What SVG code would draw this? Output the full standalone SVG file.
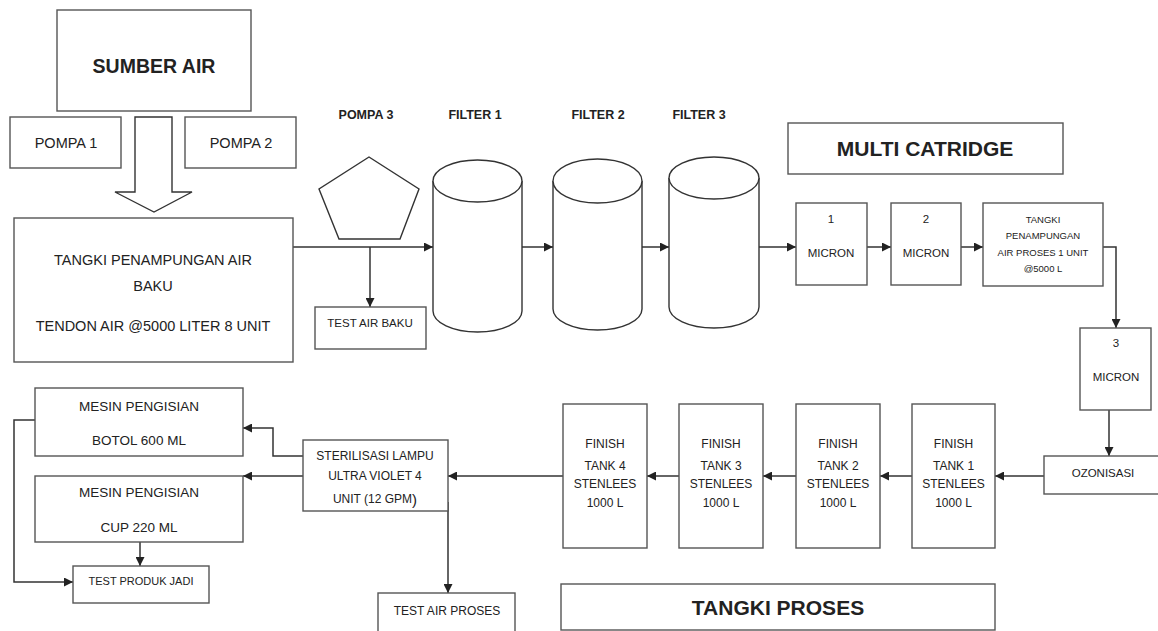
<svg xmlns="http://www.w3.org/2000/svg" width="1158" height="631" viewBox="0 0 1158 631">
  <defs>
    <marker id="arrow" viewBox="0 0 10 10" refX="10" refY="5" markerWidth="9" markerHeight="9" markerUnits="userSpaceOnUse" orient="auto">
      <path d="M0,0 L10,5 L0,10 z" fill="#222"/>
    </marker>
    <style>
      .box { fill: #fff; stroke: #555; stroke-width: 1.4; }
      .shape { fill: #fff; stroke: #333; stroke-width: 1.4; }
      .line { fill: none; stroke: #333; stroke-width: 1.5; }
      .arr { fill: none; stroke: #333; stroke-width: 1.5; marker-end: url(#arrow); }
      text { font-family: "Liberation Sans", Arial, sans-serif; fill: #222; text-anchor: middle; dominant-baseline: central; }
      .t14 { font-size: 14.5px; }
      .t13 { font-size: 13.5px; }
      .t12 { font-size: 12px; }
      .t11 { font-size: 11.5px; }
      .t9 { font-size: 9.5px; }
      .b13 { font-size: 12.5px; font-weight: bold; }
      .big { font-size: 21px; font-weight: bold; }
    </style>
  </defs>
  <rect width="1158" height="631" fill="#fff"/>

  <!-- connectors -->
  <g id="connectors">
    <!-- supply arrow from source to storage tank -->
    <path class="shape" d="M135,117 H172 V192 H192 L154,212 L115,192 H135 Z"/>
    <!-- raw water line through pump and filters -->
    <line class="arr" x1="293" y1="247" x2="433" y2="247"/>
    <line class="arr" x1="370" y1="247" x2="370" y2="307"/>
    <line class="arr" x1="522" y1="247" x2="553" y2="247"/>
    <line class="arr" x1="642" y1="247" x2="669" y2="247"/>
    <line class="arr" x1="759" y1="247" x2="796" y2="247"/>
    <line class="arr" x1="867" y1="247" x2="891" y2="247"/>
    <line class="arr" x1="961" y1="247" x2="983" y2="247"/>
    <polyline class="arr" points="1103,247 1116,247 1116,328"/>
    <line class="arr" x1="1109" y1="410" x2="1109" y2="456"/>
    <!-- finish tanks -->
    <line class="arr" x1="1044" y1="476" x2="995" y2="476"/>
    <line class="arr" x1="912" y1="476" x2="880" y2="476"/>
    <line class="arr" x1="796" y1="476" x2="763" y2="476"/>
    <line class="arr" x1="679" y1="476" x2="647" y2="476"/>
    <line class="arr" x1="563" y1="476" x2="448" y2="476"/>
    <!-- UV sterilisation outputs -->
    <polyline class="arr" points="303,456 273,456 273,428 243,428"/>
    <line class="arr" x1="303" y1="476" x2="243" y2="476"/>
    <line class="arr" x1="448" y1="502" x2="448" y2="593"/>
    <line class="arr" x1="140" y1="542" x2="140" y2="566"/>
    <polyline class="arr" points="35,420 14,420 14,582 73,582"/>
  </g>

  <g id="sumber-air">
    <rect class="box" x="57" y="10" width="194" height="101"/>
    <text class="big" x="154" y="66" style="font-size:19.5px">SUMBER AIR</text>
  </g>
  <g id="pompa-1">
    <rect class="box" x="10" y="117" width="111" height="51"/>
    <text class="t14" x="66" y="143">POMPA 1</text>
  </g>
  <g id="pompa-2">
    <rect class="box" x="185" y="117" width="111" height="51"/>
    <text class="t14" x="241" y="143">POMPA 2</text>
  </g>

  <g id="tangki-baku">
    <rect class="box" x="14" y="218" width="279" height="144"/>
    <text class="t14" x="153" y="260">TANGKI PENAMPUNGAN AIR</text>
    <text class="t14" x="153" y="286">BAKU</text>
    <text class="t14" x="153" y="326">TENDON AIR @5000 LITER 8 UNIT</text>
  </g>

  <g id="pompa-3">
    <text class="b13" x="366" y="115">POMPA 3</text>
    <polygon class="shape" points="369,157 419,189 400,239 339,239 319,189"/>
  </g>
  <g id="test-air-baku">
    <rect class="box" x="315" y="307" width="111" height="42"/>
    <text class="t11" x="370" y="323">TEST AIR BAKU</text>
  </g>

  <g id="filter-1">
    <text class="b13" x="475" y="115">FILTER 1</text>
    <path class="shape" d="M433,181 V311 A44.5,21 0 0 0 522,311 V181"/>
    <ellipse class="shape" cx="477.5" cy="181" rx="44.5" ry="21"/>
  </g>
  <g id="filter-2">
    <text class="b13" x="598" y="115">FILTER 2</text>
    <path class="shape" d="M553,181 V309 A44.5,21 0 0 0 642,309 V181"/>
    <ellipse class="shape" cx="597.5" cy="181" rx="44.5" ry="22"/>
  </g>
  <g id="filter-3">
    <text class="b13" x="699" y="115">FILTER 3</text>
    <path class="shape" d="M669,178 V307 A45,21 0 0 0 759,307 V178"/>
    <ellipse class="shape" cx="714" cy="178" rx="45" ry="21"/>
  </g>

  <g id="multi-catridge">
    <rect class="box" x="788" y="123" width="275" height="51"/>
    <text class="big" x="925" y="148">MULTI CATRIDGE</text>
  </g>
  <g id="micron-1">
    <rect class="box" x="796" y="203" width="71" height="82"/>
    <text class="t11" x="831" y="219">1</text>
    <text class="t11" x="831" y="253">MICRON</text>
  </g>
  <g id="micron-2">
    <rect class="box" x="891" y="203" width="70" height="82"/>
    <text class="t11" x="926" y="219">2</text>
    <text class="t11" x="926" y="253">MICRON</text>
  </g>
  <g id="tangki-air-proses">
    <rect class="box" x="983" y="203" width="120" height="83"/>
    <text class="t9" x="1043" y="219">TANGKI</text>
    <text class="t9" x="1043" y="235">PENAMPUNGAN</text>
    <text class="t9" x="1043" y="252">AIR PROSES 1 UNIT</text>
    <text class="t9" x="1043" y="268">@5000 L</text>
  </g>
  <g id="micron-3">
    <rect class="box" x="1080" y="328" width="71" height="82"/>
    <text class="t11" x="1116" y="343">3</text>
    <text class="t11" x="1116" y="377">MICRON</text>
  </g>
  <g id="ozonisasi">
    <rect class="box" x="1044" y="456" width="120" height="38"/>
    <text class="t11" x="1103" y="473">OZONISASI</text>
  </g>

  <g id="finish-tank-1">
    <rect class="box" x="912" y="404" width="83" height="144"/>
    <text class="t12" x="953.5" y="444">FINISH</text>
    <text class="t12" x="953.5" y="466">TANK 1</text>
    <text class="t12" x="953.5" y="484">STENLEES</text>
    <text class="t12" x="953.5" y="503">1000 L</text>
  </g>
  <g id="finish-tank-2">
    <rect class="box" x="796" y="404" width="84" height="144"/>
    <text class="t12" x="838" y="444">FINISH</text>
    <text class="t12" x="838" y="466">TANK 2</text>
    <text class="t12" x="838" y="484">STENLEES</text>
    <text class="t12" x="838" y="503">1000 L</text>
  </g>
  <g id="finish-tank-3">
    <rect class="box" x="679" y="404" width="84" height="144"/>
    <text class="t12" x="721" y="444">FINISH</text>
    <text class="t12" x="721" y="466">TANK 3</text>
    <text class="t12" x="721" y="484">STENLEES</text>
    <text class="t12" x="721" y="503">1000 L</text>
  </g>
  <g id="finish-tank-4">
    <rect class="box" x="563" y="404" width="84" height="144"/>
    <text class="t12" x="605" y="444">FINISH</text>
    <text class="t12" x="605" y="466">TANK 4</text>
    <text class="t12" x="605" y="484">STENLEES</text>
    <text class="t12" x="605" y="503">1000 L</text>
  </g>
  <g id="tangki-proses">
    <rect class="box" x="561" y="584" width="434" height="46"/>
    <text class="big" x="778" y="607">TANGKI PROSES</text>
  </g>

  <g id="sterilisasi-uv">
    <rect class="box" x="303" y="440" width="145" height="71"/>
    <text class="t12" x="375" y="456">STERILISASI LAMPU</text>
    <text class="t12" x="375" y="476">ULTRA VIOLET 4</text>
    <text class="t12" x="375" y="499">UNIT  (12 GPM<tspan style="font-size:15px">)</tspan></text>
  </g>
  <g id="test-air-proses">
    <rect class="box" x="378" y="593" width="137" height="42"/>
    <text class="t12" x="447" y="611">TEST AIR PROSES</text>
  </g>

  <g id="mesin-botol">
    <rect class="box" x="35" y="388" width="208" height="68"/>
    <text class="t13" x="139" y="406">MESIN PENGISIAN</text>
    <text class="t13" x="139" y="440">BOTOL 600 ML</text>
  </g>
  <g id="mesin-cup">
    <rect class="box" x="35" y="476" width="208" height="66"/>
    <text class="t13" x="139" y="492">MESIN PENGISIAN</text>
    <text class="t13" x="139" y="527">CUP 220 ML</text>
  </g>
  <g id="test-produk-jadi">
    <rect class="box" x="73" y="566" width="136" height="37"/>
    <text class="t11" x="141" y="581" style="font-size:11px">TEST PRODUK JADI</text>
  </g>
</svg>
